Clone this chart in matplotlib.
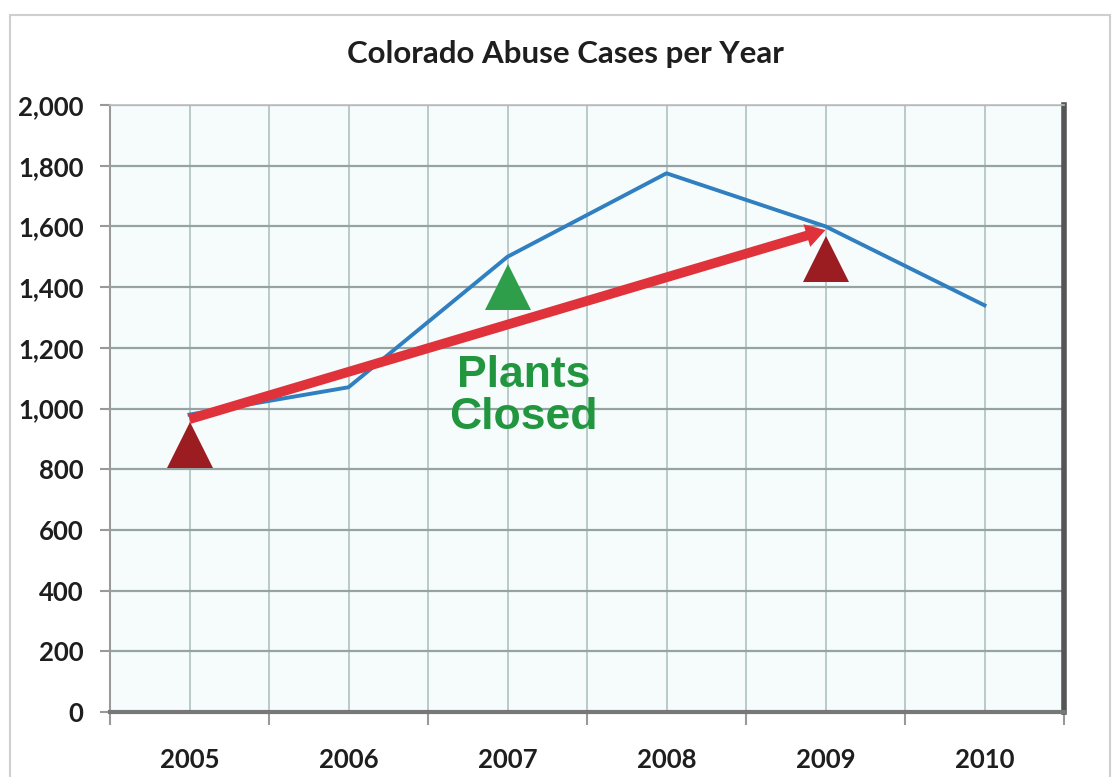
import matplotlib
matplotlib.use("Agg")
import matplotlib.pyplot as plt
from matplotlib.patches import Rectangle
from matplotlib.ticker import FuncFormatter, MultipleLocator, FixedLocator

# abuse cases per year
years = ["2005", "2006", "2007", "2008", "2009", "2010"]
cases = [980, 1070, 1500, 1775, 1600, 1340]

# trend arrow, (year index, cases)
arrow_start = [0, 965]
arrow_end = [4, 1588]

# triangle markers: year index, level, colour
tri_idx = [0, 2, 4]
tri_level = [880, 1400, 1492]
tri_colors = ["#9b1d22", "#2f9e4a", "#9b1d22"]

note_text = "Plants\nClosed"
note_pos = [2.1, 1040]

fig = plt.figure(figsize=(11.14, 7.77), dpi=100)
fig.patch.set_facecolor("white")

# light border around whole chart
fig.add_artist(Rectangle((10 / 1114, -0.02), 1100 / 1114, 1 - 15 / 777 + 0.02,
                         transform=fig.transFigure, fill=False,
                         edgecolor="#cfcfcf", lw=1.5))

ax = fig.add_axes([110 / 1114, 1 - 712 / 777, (1064 - 110) / 1114, (712 - 105) / 777])
ax.set_facecolor("#f6fcfc")

x = list(range(len(years)))

for i, lvl, c in zip(tri_idx, tri_level, tri_colors):
    ax.plot(i, lvl, marker="^", ms=33, color=c, mew=0, ls="none", zorder=3)

ax.plot(x, cases, color="#2f7fc1", lw=2.8, zorder=4)

ax.annotate("", xy=arrow_end, xytext=arrow_start,
            arrowprops=dict(width=7, headwidth=17, headlength=14,
                            facecolor="#e0323b", edgecolor="none", shrink=0),
            zorder=5)

ax.text(note_pos[0], note_pos[1], note_text, ha="center", va="center",
        fontsize=32, fontweight="bold", family="Liberation Sans",
        color="#22963f", linespacing=1.05, zorder=6)

ax.set_xlim(-0.5, 5.5)
ax.set_ylim(0, 2000)

# category boundaries get tick marks, centres get labels
ax.xaxis.set_major_locator(FixedLocator([i - 0.5 for i in range(len(years) + 1)]))
ax.xaxis.set_minor_locator(FixedLocator(x))
ax.xaxis.set_major_formatter(FuncFormatter(lambda v, p: ""))
ax.xaxis.set_minor_formatter(FuncFormatter(lambda v, p: years[int(round(v))]))
ax.tick_params(axis="x", which="major", length=9, width=1.5, color="#999999")
ax.tick_params(axis="x", which="minor", length=0, pad=26)

ax.yaxis.set_major_locator(MultipleLocator(200))
ax.yaxis.set_major_formatter(FuncFormatter(lambda v, p: f"{int(v):,}"))
ax.tick_params(axis="y", length=7, width=1.5, color="#999999", pad=12)

for lab in ax.get_xticklabels(minor=True) + ax.get_yticklabels():
    lab.set_family("Lato")
    lab.set_fontweight("bold")
    lab.set_fontsize(18.5)
    lab.set_color("#1e1e1e")

ax.grid(True, axis="y", which="major", color="#97a3a3", lw=1.6)
ax.grid(True, axis="x", which="both", color="#b3c6c6", lw=1.3)
ax.set_axisbelow(True)

ax.spines["left"].set_color("#9a9a9a")
ax.spines["left"].set_linewidth(1.5)
ax.spines["top"].set_color("#bdbdbd")
ax.spines["top"].set_linewidth(1.2)
ax.spines["bottom"].set_color("#777777")
ax.spines["bottom"].set_linewidth(3)
ax.spines["right"].set_color("#555555")
ax.spines["right"].set_linewidth(4)

fig.text(565 / 1114, 1 - 54 / 777, "Colorado Abuse Cases per Year",
         ha="center", va="center", fontsize=22.5, fontweight="bold",
         family="Lato", color="#1e1e1e")

fig.savefig("out.png", dpi=100)
